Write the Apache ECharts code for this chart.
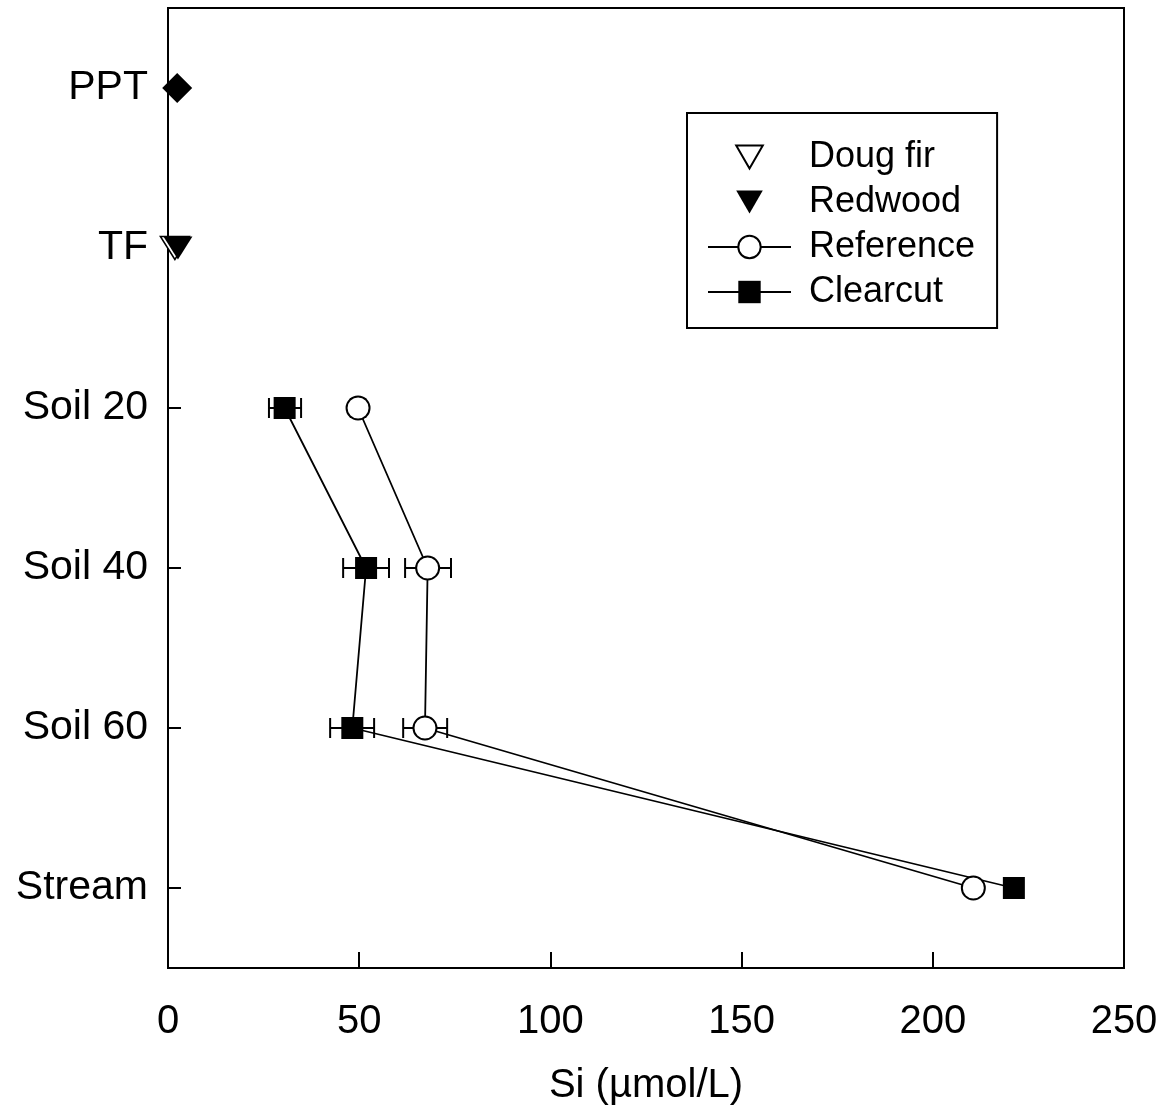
<!DOCTYPE html>
<html>
<head>
<meta charset="utf-8">
<script src="https://cdn.jsdelivr.net/npm/echarts@6/dist/echarts.min.js"></script>
<style>html,body{margin:0;padding:0;background:#fff}#c{width:1166px;height:1112px}</style>
</head>
<body>
<div id="c"></div>
<script>
var categories = ['PPT', 'TF', 'Soil 20', 'Soil 40', 'Soil 60', 'Stream'];
var xTicks = [0, 50, 100, 150, 200, 250];
var pptValues = [[2.4, 'PPT']];
var dougFirValues = [[1.8, 'TF']];
var redwoodValues = [[2.6, 'TF']];
var referenceValues = [[49.7, 'Soil 20'], [67.9, 'Soil 40'], [67.2, 'Soil 60'], [210.6, 'Stream']];
var clearcutValues = [[30.5, 'Soil 20'], [51.8, 'Soil 40'], [48.2, 'Soil 60'], [221.2, 'Stream']];
// [category, low, high]
var referenceErr = [['Soil 20', 47.8, 51.6], ['Soil 40', 62.0, 74.0], ['Soil 60', 61.5, 73.0]];
var clearcutErr = [['Soil 20', 26.4, 34.8], ['Soil 40', 45.8, 57.8], ['Soil 60', 42.4, 53.9]];

var FONT = "'Liberation Sans', Arial, Helvetica, sans-serif";
// downward triangle, with a little empty room above/below so legend icon keeps a good size
var triDown = 'path://M0,-0.94 M0,9.6 M0,0 L10,0 L5,8.66 Z';

function errRender(params, api) {
  var cat = api.value(0);
  var lo = api.coord([api.value(1), cat]);
  var hi = api.coord([api.value(2), cat]);
  var h = 10;
  var st = {stroke: '#000', lineWidth: 2};
  return {
    type: 'group',
    children: [
      {type: 'line', shape: {x1: lo[0], y1: lo[1], x2: hi[0], y2: hi[1]}, style: st},
      {type: 'line', shape: {x1: lo[0], y1: lo[1] - h, x2: lo[0], y2: lo[1] + h}, style: st},
      {type: 'line', shape: {x1: hi[0], y1: hi[1] - h, x2: hi[0], y2: hi[1] + h}, style: st}
    ]
  };
}

var chart = echarts.init(document.getElementById('c'));
chart.setOption({
  animation: false,
  backgroundColor: '#fff',
  textStyle: {fontFamily: FONT, color: '#000'},
  grid: {left: 168, right: 42, top: 8, bottom: 144, show: true, borderColor: '#000', borderWidth: 2, containLabel: false},
  legend: {
    orient: 'vertical',
    left: 687, top: 113,
    padding: [26, 22, 18, 20],
    itemGap: 9,
    itemWidth: 83, itemHeight: 28,
    borderColor: '#000', borderWidth: 2,
    textStyle: {fontFamily: FONT, fontSize: 36, color: '#000', padding: [0, 0, 0, 13]},
    data: ['Doug fir', 'Redwood', 'Reference', 'Clearcut']
  },
  xAxis: {
    type: 'value', min: 0, max: 250, interval: 50,
    name: 'Si (µmol/L)', nameLocation: 'middle', nameGap: 98,
    nameTextStyle: {fontFamily: FONT, fontSize: 40, color: '#000'},
    axisLine: {show: true, lineStyle: {color: '#000', width: 2}},
    axisTick: {show: true, inside: true, length: 16, lineStyle: {color: '#000', width: 2}},
    axisLabel: {fontFamily: FONT, fontSize: 40, color: '#000', margin: 34,
      formatter: function (v) { return xTicks.indexOf(v) >= 0 ? String(v) : ''; }},
    splitLine: {show: false}
  },
  yAxis: {
    type: 'category', data: categories, inverse: true,
    axisLine: {show: true, lineStyle: {color: '#000', width: 2}},
    axisTick: {show: true, inside: true, alignWithLabel: true, length: 13, lineStyle: {color: '#000', width: 2}},
    axisLabel: {fontFamily: FONT, fontSize: 41, color: '#000', margin: 20, padding: [12, 0, 0, 0]},
    splitLine: {show: false}
  },
  series: [
    {type: 'custom', name: 'refErr', renderItem: errRender, data: referenceErr, encode: {y: 0, x: [1, 2]}, z: 1},
    {type: 'custom', name: 'ccErr', renderItem: errRender, data: clearcutErr, encode: {y: 0, x: [1, 2]}, z: 1},
    {type: 'scatter', name: 'PPT', data: pptValues, symbol: 'diamond', symbolSize: 30,
      itemStyle: {color: '#000', opacity: 1}, z: 3},
    {type: 'scatter', name: 'Doug fir', data: dougFirValues, symbol: triDown, symbolSize: [29, 28],
      itemStyle: {color: '#fff', borderColor: '#000', borderWidth: 1.5, opacity: 1}, z: 3},
    {type: 'scatter', name: 'Redwood', data: redwoodValues, symbol: triDown, symbolSize: [29, 28],
      itemStyle: {color: '#000', opacity: 1}, z: 4},
    {type: 'line', name: 'Reference', data: referenceValues, symbol: 'circle', symbolSize: 23,
      lineStyle: {color: '#000', width: 1.8}, itemStyle: {color: '#fff', borderColor: '#000', borderWidth: 2}, z: 5},
    {type: 'line', name: 'Clearcut', data: clearcutValues, symbol: 'rect', symbolSize: 22,
      lineStyle: {color: '#000', width: 1.8}, itemStyle: {color: '#000'}, z: 5}
  ]
});
</script>
</body>
</html>
